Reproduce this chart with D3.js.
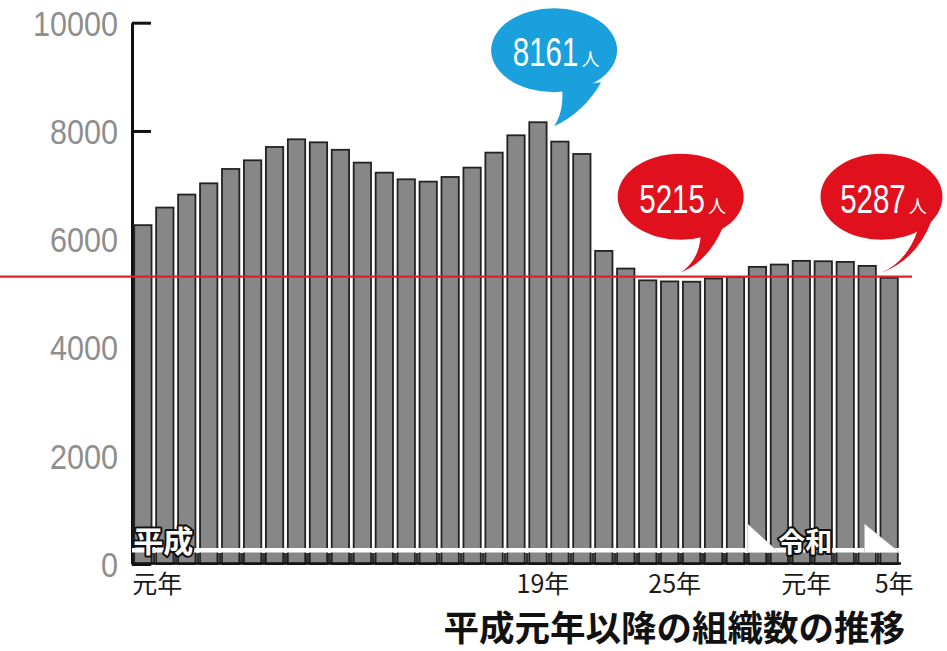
<!DOCTYPE html>
<html><head><meta charset="utf-8">
<script src="https://cdn.jsdelivr.net/npm/d3@7"></script>
<style>body{margin:0;background:#fff}svg{display:block}</style>
</head><body><svg id="c" width="947" height="651"></svg>
<script>
const categories = ["平成元年","平成2年","平成3年","平成4年","平成5年","平成6年","平成7年","平成8年","平成9年","平成10年",
  "平成11年","平成12年","平成13年","平成14年","平成15年","平成16年","平成17年","平成18年","平成19年","平成20年",
  "平成21年","平成22年","平成23年","平成24年","平成25年","平成26年","平成27年","平成28年","平成29年","平成30年",
  "令和元年","令和2年","令和3年","令和4年","令和5年"];
const values = [6260,6585,6825,7033,7298,7458,7704,7846,7790,7652,
  7415,7230,7107,7064,7150,7323,7600,7920,8161,7803,
  7575,5784,5458,5240,5220,5215,5274,5300,5489,5532,
  5600,5593,5581,5507,5287];
const yTicks = [0,2000,4000,6000,8000,10000];
const xTickCats = ["平成元年","平成19年","平成25年","令和元年","令和5年"];
const xTickLabels = ["元年","19年","25年","元年","5年"];
const refValue = 5310;
const eraLabels = ["平成","令和"];
const calloutCats = ["平成19年","平成26年","令和5年"];
const calloutTexts = ["8161","5215","5287"];
const calloutUnit = "人";
const title = "平成元年以降の組織数の推移";

const svg = d3.select("#c");
const x = d3.scaleBand().domain(categories).range([132, 900]).paddingInner(0.21).paddingOuter(0.1);
const y = d3.scaleLinear().domain([0, 10000]).range([564, 22.7]);
const bw = x.bandwidth();

// Y axis (ticks inward)
const ax = svg.append("g").attr("transform","translate(132,0)")
  .call(d3.axisRight(y).tickValues(yTicks).tickSize(19).tickSizeOuter(0).tickFormat(""));
ax.select(".domain").attr("stroke","#111").attr("stroke-width",3);
ax.selectAll(".tick line").attr("stroke","#111").attr("stroke-width",3);

svg.append("g").selectAll("text").data(yTicks).join("text")
  .attr("transform", d => `translate(118,${y(d)+13}) scale(0.85,1)`)
  .attr("text-anchor","end")
  .attr("font-family","Liberation Sans, Arial, sans-serif")
  .attr("font-size",36).attr("fill","#8e8e8e")
  .text(d => d);

// Bars
svg.append("g").selectAll("rect").data(values).join("rect")
  .attr("x",(d,i)=>x(categories[i])).attr("width",bw)
  .attr("y",d=>y(d)).attr("height",d=>y(0)-y(d))
  .attr("fill","#878787").attr("stroke","#222").attr("stroke-width",1.8);

// bottom gap ticks
const gaps = categories.slice(1).map(c => x(c) - x.step()*x.paddingInner()/2);
svg.append("g").selectAll("rect").data(gaps).join("rect")
  .attr("x",d=>d-1.5).attr("width",3).attr("y",y(0)-11).attr("height",11).attr("fill","#333");

// era band + arrow heads
const bandY = y(0)-16;
svg.append("rect").attr("x",x.range()[0]).attr("width",x.range()[1]-x.range()[0])
  .attr("y",bandY).attr("height",4.5).attr("fill","#fff");
const heads = [[x("平成29年")-1, x("平成30年")+8],[x("令和4年")+6, x("令和5年")+bw+2]];
svg.append("g").selectAll("path").data(heads).join("path")
  .attr("d",d=>`M${d[0]},${bandY-24}L${d[1]},${bandY+4.5}L${d[0]},${bandY+4.5}Z`)
  .attr("fill","#fff").attr("stroke","#bbb").attr("stroke-width",0.6);

// x baseline
svg.append("line").attr("x1",x.range()[0]).attr("x2",x.range()[1]+1)
  .attr("y1",y(0)-0.5).attr("y2",y(0)-0.5).attr("stroke","#111").attr("stroke-width",2.5);

// red reference line
svg.append("line").attr("x1",0).attr("x2",912).attr("y1",y(refValue)).attr("y2",y(refValue))
  .attr("stroke","#e3202a").attr("stroke-width",2.2);

// era labels
const eraPos = [[x("平成元年")-1,"start"],[x("令和元年")+bw/2+4,"middle"]];
svg.append("g").selectAll("text").data(eraLabels).join("text")
  .attr("x",(d,i)=>eraPos[i][0]).attr("y",bandY+4)
  .attr("text-anchor",(d,i)=>eraPos[i][1])
  .attr("font-family","Noto Sans CJK JP, sans-serif").attr("font-weight",700)
  .attr("font-size",(d,i)=> i===0?30:27)
  .attr("fill","#fff").attr("stroke","#111").attr("stroke-width",4)
  .attr("stroke-linejoin","round").attr("paint-order","stroke")
  .text(d=>d);

// callouts
const calloutStyle = [
  {color:"#1aa0dc", tip:[bw+7.5, 4], rx:63, ry:42, tail:[[8,-39],[10,-15],[30,-14],[47,-44]]},
  {color:"#e0101c", tip:[-2.3,-9], rx:63, ry:43, tail:[[20,-36],[18,-12],[28,-12],[42,-45]]},
  {color:"#e0101c", tip:[1,-5], rx:61, ry:43, tail:[[36,-42],[26,-12],[36,-14],[50,-52]]}
];
calloutCats.forEach((c,k)=>{
  const s = calloutStyle[k];
  const i = categories.indexOf(c);
  const tx = x(c)+s.tip[0], ty = y(values[i])+s.tip[1];
  const cx = tx, cy = ty-76;
  const g = svg.append("g");
  g.append("ellipse").attr("cx",cx).attr("cy",cy).attr("rx",s.rx).attr("ry",s.ry).attr("fill",s.color);
  const t = s.tail;
  g.append("path").attr("d",
    `M${tx+t[0][0]},${ty+t[0][1]}Q${tx+t[1][0]},${ty+t[1][1]} ${tx},${ty}Q${tx+t[2][0]},${ty+t[2][1]} ${tx+t[3][0]},${ty+t[3][1]}Z`)
    .attr("fill",s.color);
  const num = g.append("text").attr("font-family","Liberation Sans, Arial, sans-serif")
    .attr("font-size",41).attr("fill","#fff").text(calloutTexts[k]);
  const nw = num.node().getComputedTextLength()*0.72;
  const uw = 18;
  const start = cx + 2 - (nw + 3 + uw)/2;
  num.attr("transform",`translate(${start},${cy+16}) scale(0.72,1)`);
  g.append("text").attr("x",start+nw+3).attr("y",cy+16)
    .attr("font-family","Noto Sans CJK JP, sans-serif").attr("font-size",18).attr("fill","#fff")
    .text(calloutUnit);
});

// x tick labels
svg.append("g").selectAll("text").data(xTickLabels).join("text")
  .attr("x",(d,i)=> i===0 ? x(xTickCats[i])-2 : x(xTickCats[i])+bw/2+5)
  .attr("y",593)
  .attr("text-anchor",(d,i)=> i===0?"start":"middle")
  .attr("font-family","Noto Sans CJK JP, sans-serif").attr("font-size",25).attr("fill","#1a1a1a")
  .text(d=>d);

// title
svg.append("text").attr("x",905).attr("y",640.5).attr("text-anchor","end")
  .attr("font-family","Noto Sans CJK JP, sans-serif").attr("font-weight",700)
  .attr("font-size",35.5).attr("fill","#111").text(title);
</script></body></html>
